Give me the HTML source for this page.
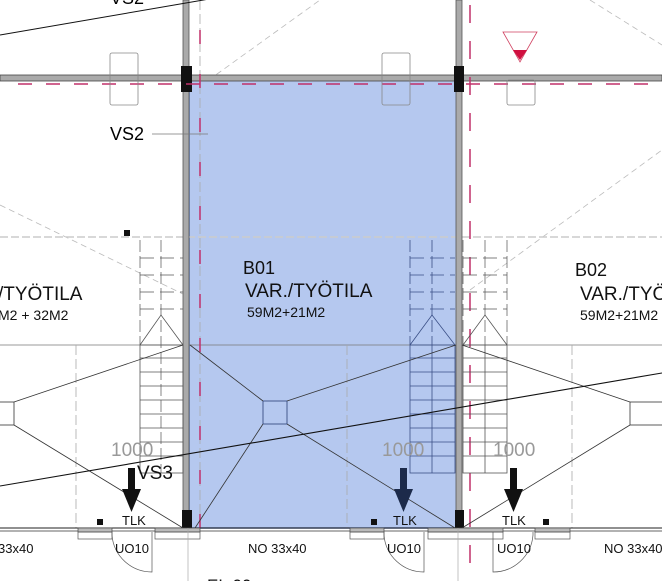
<!DOCTYPE html>
<html><head><meta charset="utf-8"><style>
html,body{margin:0;padding:0;background:#fff;}
svg{display:block;font-family:"Liberation Sans",sans-serif;}
</style></head><body>
<svg width="662" height="581" viewBox="0 0 662 581" xmlns="http://www.w3.org/2000/svg">
<g stroke="#bbb" stroke-width="0.8" stroke-dasharray="6,4" fill="none">
<line x1="192" y1="92" x2="320" y2="0"/>
<line x1="192" y1="100" x2="455" y2="290"/>
<line x1="0" y1="205" x2="185" y2="295"/>
<line x1="470" y1="290" x2="662" y2="150"/>
<line x1="590" y1="0" x2="662" y2="45"/>
</g>
<rect x="189" y="80" width="268" height="448" fill="#b5c8ef" stroke="#5573b5" stroke-width="1.5"/>
<line x1="0" y1="237" x2="662" y2="237" stroke="#ccc" stroke-width="1.5" stroke-dasharray="8,3"/>
<line x1="0" y1="345" x2="662" y2="345" stroke="#777" stroke-width="0.8"/>
<g stroke="#aaa" stroke-width="0.8" stroke-dasharray="10,4">
<line x1="76" y1="345" x2="76" y2="528"/>
<line x1="347" y1="345" x2="347" y2="528"/>
<line x1="572" y1="345" x2="572" y2="528"/>
<line x1="200" y1="0" x2="200" y2="528"/>
</g>
<rect x="0" y="75" width="662" height="6" fill="#aaa" stroke="#444" stroke-width="0.8"/>
<rect x="183" y="0" width="6" height="528" fill="#aaa" stroke="#555" stroke-width="0.8"/>
<rect x="456" y="0" width="6" height="528" fill="#aaa" stroke="#555" stroke-width="0.8"/>
<rect x="181" y="66" width="11" height="26" fill="#111"/>
<rect x="454" y="66" width="10" height="26" fill="#111"/>
<rect x="182" y="510" width="10" height="18" fill="#111"/>
<rect x="455" y="510" width="9" height="18" fill="#111"/>
<g stroke="#c0306a" stroke-width="1.5" fill="none">
<line x1="18" y1="84" x2="662" y2="84" stroke-dasharray="14,14"/>
<line x1="200" y1="30" x2="200" y2="528" stroke-dasharray="14,30"/>
<line x1="470" y1="5" x2="470" y2="581" stroke-dasharray="18,18"/>
</g>
<g fill="none" stroke="#888" stroke-width="0.8">
<rect x="110" y="53" width="28" height="52" rx="2"/>
<rect x="382" y="53" width="28" height="52" rx="2"/>
<rect x="507" y="80" width="28" height="25" rx="2"/>
</g>
<polygon points="503,32 537,32 520,62" fill="none" stroke="#d04060" stroke-width="0.8"/>
<polygon points="513,50 527,50 520,60" fill="#d01040"/>
<line x1="0" y1="35" x2="215" y2="-2" stroke="#111" stroke-width="1"/>
<text x="110" y="4" font-size="18">VS2</text>
<text x="110" y="140" font-size="18">VS2</text>
<line x1="152" y1="134" x2="208" y2="134" stroke="#777" stroke-width="0.8"/>
<!-- stairs upper dashed -->
<g fill="none" stroke="#666" stroke-width="0.8" stroke-dasharray="12,4">
<line x1="140" y1="240" x2="140" y2="345"/><line x1="161" y1="240" x2="161" y2="473"/>
<line x1="463" y1="240" x2="463" y2="345"/><line x1="507" y1="240" x2="507" y2="345"/><line x1="485" y1="240" x2="485" y2="345"/>
<line x1="410" y1="240" x2="410" y2="345" stroke="#3a4f86"/><line x1="432" y1="240" x2="432" y2="345" stroke="#3a4f86"/>
</g>
<g fill="none" stroke="#555" stroke-width="0.8">
<rect x="140" y="345" width="43" height="128"/>
<rect x="410" y="345" width="45" height="128" stroke="#3a4f86"/>
<line x1="432" y1="345" x2="432" y2="473" stroke="#3a4f86"/>
<rect x="463" y="345" width="44" height="128"/>
<line x1="485" y1="345" x2="485" y2="473"/>
<polyline points="140,345 161,315 183,345"/>
<polyline points="410,345 432,315 455,345" stroke="#3a4f86"/>
<polyline points="463,345 485,315 507,345"/>
</g>
<g stroke="#555" stroke-width="0.8" stroke-dasharray="14,6">
<line x1="140" y1="258" x2="183" y2="258"/><line x1="140" y1="275" x2="183" y2="275"/><line x1="140" y1="292" x2="183" y2="292"/><line x1="140" y1="309" x2="183" y2="309"/>
<line x1="463" y1="258" x2="507" y2="258"/><line x1="463" y1="275" x2="507" y2="275"/><line x1="463" y1="292" x2="507" y2="292"/><line x1="463" y1="309" x2="507" y2="309"/>
<line x1="410" y1="258" x2="455" y2="258" stroke="#3a4f86"/><line x1="410" y1="275" x2="455" y2="275" stroke="#3a4f86"/><line x1="410" y1="292" x2="455" y2="292" stroke="#3a4f86"/><line x1="410" y1="309" x2="455" y2="309" stroke="#3a4f86"/>
</g>
<g stroke="#555" stroke-width="0.8">
<line x1="140" y1="358" x2="183" y2="358"/><line x1="140" y1="372" x2="183" y2="372"/><line x1="140" y1="386" x2="183" y2="386"/><line x1="140" y1="400" x2="183" y2="400"/><line x1="140" y1="414" x2="183" y2="414"/><line x1="140" y1="428" x2="183" y2="428"/><line x1="140" y1="442" x2="183" y2="442"/><line x1="140" y1="456" x2="183" y2="456"/>
<line x1="463" y1="358" x2="507" y2="358"/><line x1="463" y1="372" x2="507" y2="372"/><line x1="463" y1="386" x2="507" y2="386"/><line x1="463" y1="400" x2="507" y2="400"/><line x1="463" y1="414" x2="507" y2="414"/><line x1="463" y1="428" x2="507" y2="428"/><line x1="463" y1="442" x2="507" y2="442"/><line x1="463" y1="456" x2="507" y2="456"/>
</g>
<g stroke="#3a4f86" stroke-width="0.8">
<line x1="410" y1="358" x2="455" y2="358"/><line x1="410" y1="372" x2="455" y2="372"/><line x1="410" y1="386" x2="455" y2="386"/><line x1="410" y1="400" x2="455" y2="400"/><line x1="410" y1="414" x2="455" y2="414"/><line x1="410" y1="428" x2="455" y2="428"/><line x1="410" y1="442" x2="455" y2="442"/><line x1="410" y1="456" x2="455" y2="456"/>
</g>
<g fill="none" stroke="#333" stroke-width="0.8">
<rect x="263" y="401" width="24" height="23" stroke="#2a3f76"/>
<line x1="190" y1="345" x2="263" y2="401"/><line x1="456" y1="345" x2="287" y2="401"/>
<line x1="263" y1="424" x2="195" y2="528"/><line x1="287" y1="424" x2="455" y2="528"/>
<rect x="-10" y="402" width="24" height="23"/>
<line x1="14" y1="402" x2="183" y2="345"/><line x1="14" y1="425" x2="183" y2="528"/>
<rect x="630" y="402" width="40" height="23"/>
<line x1="630" y1="402" x2="462" y2="345"/><line x1="630" y1="425" x2="462" y2="528"/>
</g>
<line x1="0" y1="486" x2="662" y2="373" stroke="#111" stroke-width="1.1"/>
<text x="243" y="274" font-size="18" fill="#111">B01</text>
<text x="245" y="297" font-size="19" fill="#111">VAR./TYÖTILA</text>
<text x="247" y="317" font-size="14" fill="#111">59M2+21M2</text>
<text x="575" y="276" font-size="18" fill="#111">B02</text>
<text x="580" y="300" font-size="19" fill="#111">VAR./TYÖTILA</text>
<text x="580" y="320" font-size="14" fill="#111">59M2+21M2</text>
<text x="-2" y="300" font-size="19" fill="#111">/TYÖTILA</text>
<text x="-2" y="320" font-size="14" fill="#111">M2 + 32M2</text>
<text x="111" y="456" font-size="19" fill="#999">1000</text>
<text x="382" y="456" font-size="19" fill="#999">1000</text>
<text x="493" y="456" font-size="19" fill="#999">1000</text>
<text x="137" y="479" font-size="19" fill="#111">VS3</text>
<g>
<rect x="128" y="468" width="7" height="22" fill="#111"/><polygon points="122,489 141,489 131.5,512" fill="#111"/>
<rect x="400" y="468" width="7" height="22" fill="#1c2a4a"/><polygon points="394,489 413,489 403.5,512" fill="#1c2a4a"/>
<rect x="510" y="468" width="7" height="22" fill="#111"/><polygon points="504,489 523,489 513.5,512" fill="#111"/>
</g>
<text x="122" y="525" font-size="13" fill="#111">TLK</text>
<text x="393" y="525" font-size="13" fill="#111">TLK</text>
<text x="502" y="525" font-size="13" fill="#111">TLK</text>
<line x1="0" y1="528" x2="662" y2="528" stroke="#222" stroke-width="1"/>
<line x1="0" y1="531" x2="662" y2="531" stroke="#999" stroke-width="1.5"/>
<g fill="#bbb" stroke="#444" stroke-width="0.7">
<rect x="78" y="528" width="34" height="4"/><rect x="155" y="528" width="45" height="4"/>
<rect x="350" y="528" width="34" height="4"/><rect x="428" y="528" width="75" height="4"/><rect x="535" y="528" width="35" height="4"/>
</g>
<g fill="none" stroke="#555" stroke-width="0.7">
<rect x="78" y="532" width="34" height="7"/><rect x="155" y="532" width="45" height="7"/>
<rect x="350" y="532" width="34" height="7"/><rect x="428" y="532" width="75" height="7"/><rect x="535" y="532" width="35" height="7"/>
<path d="M112 532 L112 535 A40 40 0 0 0 152 572 L152 532"/>
<path d="M384 532 L384 535 A40 40 0 0 0 424 572 L424 532"/>
<path d="M493 532 L493 572 A40 40 0 0 0 533 535 L533 532"/>
<line x1="458" y1="528" x2="458" y2="581" stroke="#aaa"/>
<line x1="188" y1="528" x2="188" y2="581" stroke="#aaa"/>
</g>
<g fill="#111"><rect x="97" y="519" width="6" height="6"/><rect x="371" y="519" width="6" height="6"/><rect x="543" y="519" width="6" height="6"/><rect x="124" y="230" width="6" height="6"/></g>
<g font-size="13" fill="#111">
<text x="-2" y="553">33x40</text><text x="115" y="553">UO10</text><text x="248" y="553">NO 33x40</text>
<text x="387" y="553">UO10</text><text x="497" y="553">UO10</text><text x="604" y="553">NO 33x40</text>
<text x="207" y="591" font-size="17">EL.00</text>
</g>
</svg>
</body></html>
